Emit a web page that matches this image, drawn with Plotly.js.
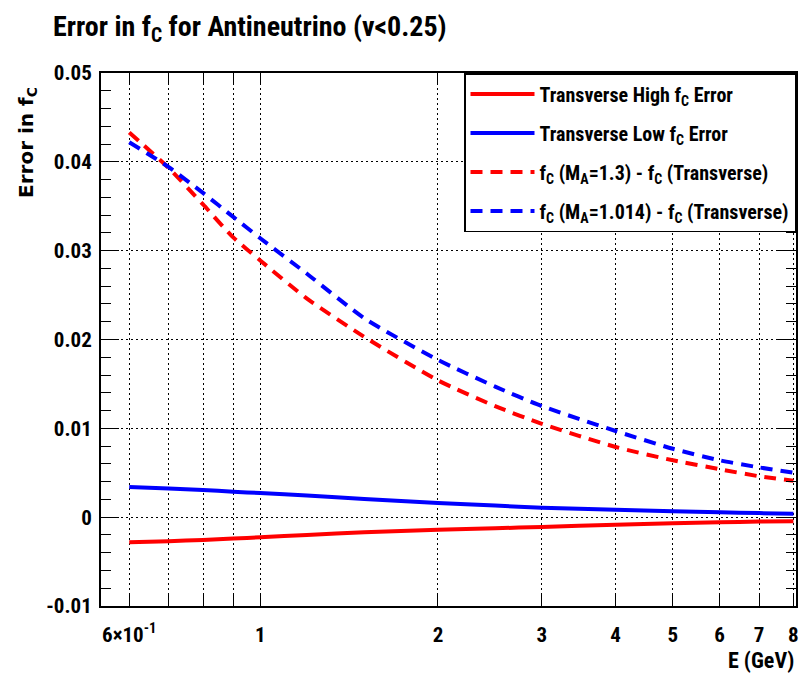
<!DOCTYPE html>
<html>
<head>
<meta charset="utf-8">
<script src="https://cdn.plot.ly/plotly-3.0.1.min.js"></script>
<style>html,body{margin:0;padding:0;background:#fff;}#chart{width:804px;height:676px;}</style>
</head>
<body>
<div id="chart"></div>
<script>
// Energy points (GeV)
var energy = [0.6, 0.7, 0.8, 0.9, 1.0, 1.2, 1.5, 2.0, 2.5, 3.0, 4.0, 5.0, 6.0, 7.0, 8.0];
// Transverse High fC Error
var highErr = [-0.00282, -0.00271, -0.00256, -0.00241, -0.00226, -0.00200, -0.00170, -0.00142, -0.00125, -0.00110, -0.00084, -0.00068, -0.00058, -0.00050, -0.00045];
// Transverse Low fC Error
var lowErr = [0.00340, 0.00324, 0.00305, 0.00287, 0.00271, 0.00243, 0.00205, 0.00160, 0.00130, 0.00106, 0.00083, 0.00068, 0.00056, 0.00046, 0.00038];
// fC(MA=1.3) - fC(Transverse)
var diffMA13 = [0.0433, 0.0393, 0.0352, 0.0315, 0.0289, 0.0246, 0.0203, 0.0154, 0.0125, 0.0105, 0.0079, 0.0064, 0.0054, 0.0046, 0.0041];
// fC(MA=1.014) - fC(Transverse)
var diffMA1014 = [0.0422, 0.0394, 0.0365, 0.0338, 0.0314, 0.0274, 0.0224, 0.0177, 0.0147, 0.0125, 0.0097, 0.0077, 0.0064, 0.0056, 0.0050];

var seriesNames = [
  'Transverse High f<sub>C</sub> Error',
  'Transverse Low f<sub>C</sub> Error',
  'f<sub>C</sub> (M<sub>A</sub>=1.3) - f<sub>C</sub> (Transverse)',
  'f<sub>C</sub> (M<sub>A</sub>=1.014) - f<sub>C</sub> (Transverse)'
];
var xTickVals = [0.6, 0.7, 0.8, 0.9, 1, 2, 3, 4, 5, 6, 7, 8];
var xTickText = ['6\u00d710<sup>-1</sup>', '', '', '', '1', '2', '3', '4', '5', '6', '7', '8'];
var yTickVals = [-0.01, 0, 0.01, 0.02, 0.03, 0.04, 0.05];
var yTickText = ['-0.01', '0', '0.01', '0.02', '0.03', '0.04', '0.05'];

var FN = '"Roboto Condensed", Roboto, "Liberation Sans", Arial, sans-serif';
function fnt(size) { return {family: FN, size: size, color: '#000', weight: 'bold', stretch: 'condensed'}; }
var DASH = '12px,8px';

function tr(y, name, color, dash, g) {
  return {
    x: energy, y: y, name: name, type: 'scatter', mode: 'lines',
    legendgroup: g,
    line: {color: color, width: 4, dash: dash, shape: 'spline', smoothing: 0.6}
  };
}
var data = [
  tr(highErr, seriesNames[0], '#ff0000', 'solid', 'a'),
  tr(lowErr, seriesNames[1], '#0000ff', 'solid', 'b'),
  tr(diffMA13, seriesNames[2], '#ff0000', DASH, 'c'),
  tr(diffMA1014, seriesNames[3], '#0000ff', DASH, 'd')
];

var layout = {
  width: 804, height: 676,
  paper_bgcolor: '#ffffff', plot_bgcolor: '#ffffff',
  margin: {l: 101, r: 8, t: 73, b: 70, pad: 0},
  font: fnt(21),
  title: {
    text: 'Error in f<sub>C</sub> for Antineutrino (\u03bd&lt;0.25)',
    x: 53 / 804, xanchor: 'left', xref: 'container',
    y: 1 - 26 / 676, yanchor: 'middle', yref: 'container',
    font: fnt(28)
  },
  xaxis: {
    type: 'log',
    range: [-0.2697, 0.9075],
    tickmode: 'array', tickvals: xTickVals, ticktext: xTickText,
    ticks: 'inside', ticklen: 12, tickwidth: 1, tickcolor: '#000',
    showline: true, linecolor: '#000', linewidth: 2, mirror: 'allticks',
    showgrid: true, gridcolor: '#000', gridwidth: 1, griddash: '2px,3px',
    zeroline: false,
    ticklabelstandoff: 9,
    tickfont: fnt(21)
  },
  yaxis: {
    range: [-0.01, 0.05],
    tickmode: 'array', tickvals: yTickVals, ticktext: yTickText,
    ticks: 'inside', ticklen: 18, tickwidth: 1, tickcolor: '#000',
    minor: {dtick: 0.002, ticks: 'inside', ticklen: 10, tickwidth: 1, tickcolor: '#000', showgrid: false},
    showline: true, linecolor: '#000', linewidth: 2, mirror: 'allticks',
    showgrid: true, gridcolor: '#000', gridwidth: 1, griddash: '2px,3px',
    zeroline: false,
    ticklabelstandoff: 3,
    tickfont: fnt(21)
  },
  showlegend: true,
  legend: {
    x: 1, xanchor: 'right', y: 1, yanchor: 'top',
    bgcolor: '#ffffff', bordercolor: '#000', borderwidth: 1.5,
    itemwidth: 64, tracegroupgap: 10, traceorder: 'grouped',
    font: fnt(20)
  },
  annotations: [
    {
      text: 'Error in f<sub>C</sub>', textangle: -90, showarrow: false,
      xref: 'paper', yref: 'paper', x: (27 - 101) / 695, y: 1 - (143 - 73) / 533,
      xanchor: 'center', yanchor: 'middle',
      font: {family: '"DejaVu Sans", sans-serif', size: 20, color: '#000', weight: 'bold'}
    },
    {
      text: 'E (GeV)', showarrow: false,
      xref: 'paper', yref: 'paper', x: (796 - 101) / 695, y: -(660 - 606) / 533,
      xanchor: 'right', yanchor: 'middle',
      font: fnt(22)
    }
  ]
};

Plotly.newPlot('chart', data, layout, {displayModeBar: false, staticPlot: true});
</script>
</body>
</html>
